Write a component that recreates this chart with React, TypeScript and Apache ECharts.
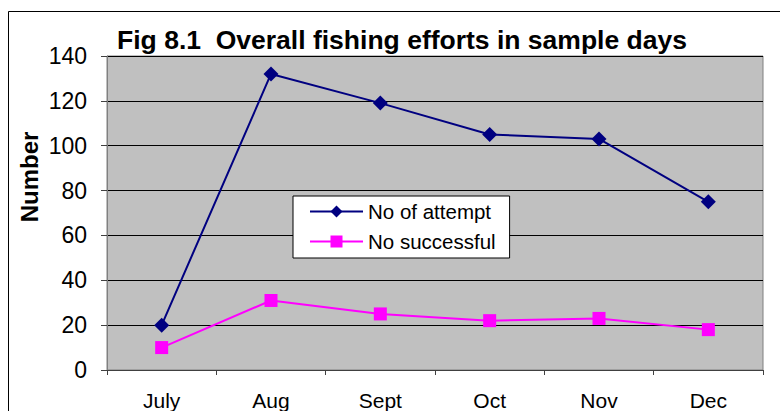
import React, { useEffect, useRef } from "react";
import * as echarts from "echarts";

const months = ["July", "Aug", "Sept", "Oct", "Nov", "Dec"];
const attempts = [20, 132, 119, 105, 103, 75];
const successful = [10, 31, 25, 22, 23, 18];
const seriesNames = ["No of attempt", "No successful"];
const titleText = "Fig 8.1  Overall fishing efforts in sample days";
const yAxisTitle = "Number";

const FONT = "'Liberation Sans', Arial, sans-serif";

export default function App() {
  const ref = useRef<HTMLDivElement>(null);
  useEffect(() => {
    document.body.style.margin = "0";
    const chart = echarts.init(ref.current!, null, { renderer: "svg" });
    chart.setOption({
      animation: false,
      backgroundColor: "#ffffff",
      textStyle: { fontFamily: FONT },
      title: {
        text: titleText,
        left: 397,
        textAlign: "center",
        top: 21,
        textStyle: { fontFamily: FONT, fontSize: 26.5, fontWeight: "bold", color: "#000" },
      },
      graphic: [
        {
          type: "rect",
          shape: { x: 8.5, y: 11.5, width: 900, height: 600 },
          style: { fill: "none", stroke: "#000", lineWidth: 1 },
          z: 100,
        },
        {
          type: "text",
          x: 29,
          y: 177,
          rotation: Math.PI / 2,
          style: {
            text: yAxisTitle,
            fontFamily: FONT,
            fontSize: 24,
            fontWeight: "bold",
            fill: "#000",
            align: "center",
            verticalAlign: "middle",
          },
        },
      ],
      legend: {
        left: 293,
        top: 196,
        orient: "vertical",
        backgroundColor: "#fff",
        borderColor: "#000",
        borderWidth: 1,
        padding: [5, 14, 6, 16],
        itemGap: 9,
        itemWidth: 53,
        itemHeight: 15,
        textStyle: { fontFamily: FONT, fontSize: 20.5, color: "#000" },
        data: seriesNames,
      },
      grid: {
        left: 107,
        top: 56,
        width: 656,
        height: 314,
        show: true,
        backgroundColor: "#C0C0C0",
        borderColor: "#808080",
        borderWidth: 1,
      },
      xAxis: {
        type: "category",
        data: months,
        boundaryGap: true,
        axisLine: { lineStyle: { color: "#404040", width: 1 } },
        axisTick: { show: true, length: 5, inside: false, lineStyle: { color: "#404040" } },
        axisLabel: { margin: 20, fontFamily: FONT, fontSize: 21, color: "#000" },
      },
      yAxis: {
        type: "value",
        min: 0,
        max: 140,
        interval: 20,
        axisLine: { show: true, lineStyle: { color: "#808080", width: 1 } },
        axisTick: { show: true, length: 6, lineStyle: { color: "#404040" } },
        axisLabel: { margin: 20, fontFamily: FONT, fontSize: 23, color: "#000" },
        splitLine: { show: true, lineStyle: { color: "#000", width: 1 } },
      },
      series: [
        {
          name: seriesNames[0],
          type: "line",
          data: attempts,
          symbol: "diamond",
          symbolSize: 15,
          lineStyle: { color: "#000080", width: 2 },
          itemStyle: { color: "#000080" },
        },
        {
          name: seriesNames[1],
          type: "line",
          data: successful,
          symbol: "rect",
          symbolSize: 13,
          lineStyle: { color: "#FF00FF", width: 2 },
          itemStyle: { color: "#FF00FF" },
        },
      ],
    });
    return () => chart.dispose();
  }, []);
  return <div ref={ref} style={{ position: "fixed", left: 0, top: 0, width: 780, height: 411 }} />;
}
